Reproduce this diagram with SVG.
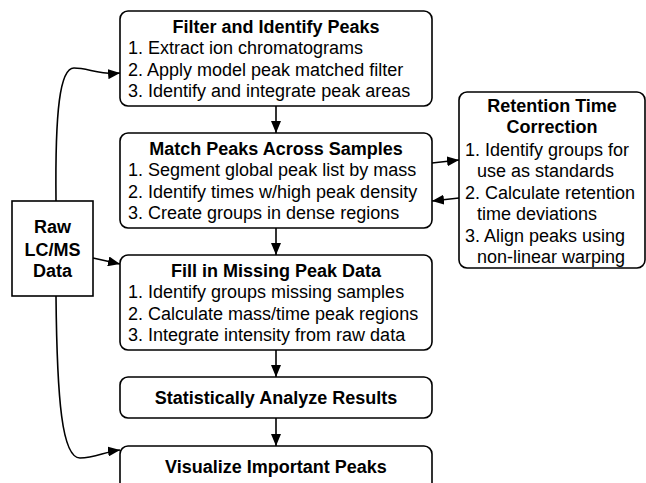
<svg xmlns="http://www.w3.org/2000/svg" width="646" height="483" viewBox="0 0 646 483">
<style>
.box{fill:#fff;stroke:#000;stroke-width:1.6}
.t{font-family:"Liberation Sans",Arial,sans-serif;font-size:18px;fill:#000}
.b{font-weight:bold}
.c{text-anchor:middle}
.ln{fill:none;stroke:#000;stroke-width:1.6}
</style>
<defs>
<marker id="ah" markerWidth="12" markerHeight="10" refX="12" refY="5" orient="auto" markerUnits="userSpaceOnUse">
<path d="M0,0 L12,5 L0,10 Z" fill="#000"/>
</marker>
</defs>
<rect width="646" height="483" fill="#fff"/>
<g id="connectors">
<path class="ln" d="M276,106 V133" marker-end="url(#ah)"/>
<path class="ln" d="M276,228 V255" marker-end="url(#ah)"/>
<path class="ln" d="M276,350 V377" marker-end="url(#ah)"/>
<path class="ln" d="M276,418 V446" marker-end="url(#ah)"/>
<path class="ln" d="M432,163 L459,160" marker-end="url(#ah)"/>
<path class="ln" d="M459,198 L432,201" marker-end="url(#ah)"/>
<path class="ln" d="M93,258 L120,264" marker-end="url(#ah)"/>
<path class="ln" d="M56,201 C55,110 60,68 74,68 C88,68 100,75 120,73" marker-end="url(#ah)"/>
<path class="ln" d="M56,296 C57,400 62,458 80,458 C95,458 104,452 120,450" marker-end="url(#ah)"/>
</g>
<g id="filter">
<rect class="box" x="120" y="11" width="312" height="95" rx="8"/>
<text class="t b c" x="276" y="33">Filter and Identify Peaks</text>
<text class="t" x="128" y="54">1. Extract ion chromatograms</text>
<text class="t" x="128" y="76">2. Apply model peak matched filter</text>
<text class="t" x="128" y="97">3. Identify and integrate peak areas</text>
</g>
<g id="match">
<rect class="box" x="120" y="133" width="312" height="95" rx="8"/>
<text class="t b c" x="276" y="155">Match Peaks Across Samples</text>
<text class="t" x="128" y="176">1. Segment global peak list by mass</text>
<text class="t" x="128" y="198">2. Identify times w/high peak density</text>
<text class="t" x="128" y="219">3. Create groups in dense regions</text>
</g>
<g id="retention">
<rect class="box" x="459" y="92" width="186" height="176" rx="8"/>
<text class="t b c" x="552" y="112">Retention Time</text>
<text class="t b c" x="552" y="133">Correction</text>
<text class="t" x="465" y="156">1. Identify groups for</text>
<text class="t" x="477" y="177">use as standards</text>
<text class="t" x="465" y="199">2. Calculate retention</text>
<text class="t" x="477" y="220">time deviations</text>
<text class="t" x="465" y="242">3. Align peaks using</text>
<text class="t" x="477" y="263">non-linear warping</text>
</g>
<g id="raw">
<rect class="box" x="12" y="201" width="81" height="95"/>
<text class="t b c" x="52.5" y="233">Raw</text>
<text class="t b c" x="52.5" y="256">LC/MS</text>
<text class="t b c" x="52.5" y="277">Data</text>
</g>
<g id="fill">
<rect class="box" x="120" y="255" width="312" height="95" rx="8"/>
<text class="t b c" x="276" y="277">Fill in Missing Peak Data</text>
<text class="t" x="128" y="298">1. Identify groups missing samples</text>
<text class="t" x="128" y="320">2. Calculate mass/time peak regions</text>
<text class="t" x="128" y="341">3. Integrate intensity from raw data</text>
</g>
<g id="stat">
<rect class="box" x="120" y="377" width="312" height="41" rx="8"/>
<text class="t b c" x="276" y="404">Statistically Analyze Results</text>
</g>
<g id="visualize">
<rect class="box" x="120" y="446" width="312" height="46" rx="8"/>
<text class="t b c" x="276" y="473">Visualize Important Peaks</text>
</g>
</svg>
